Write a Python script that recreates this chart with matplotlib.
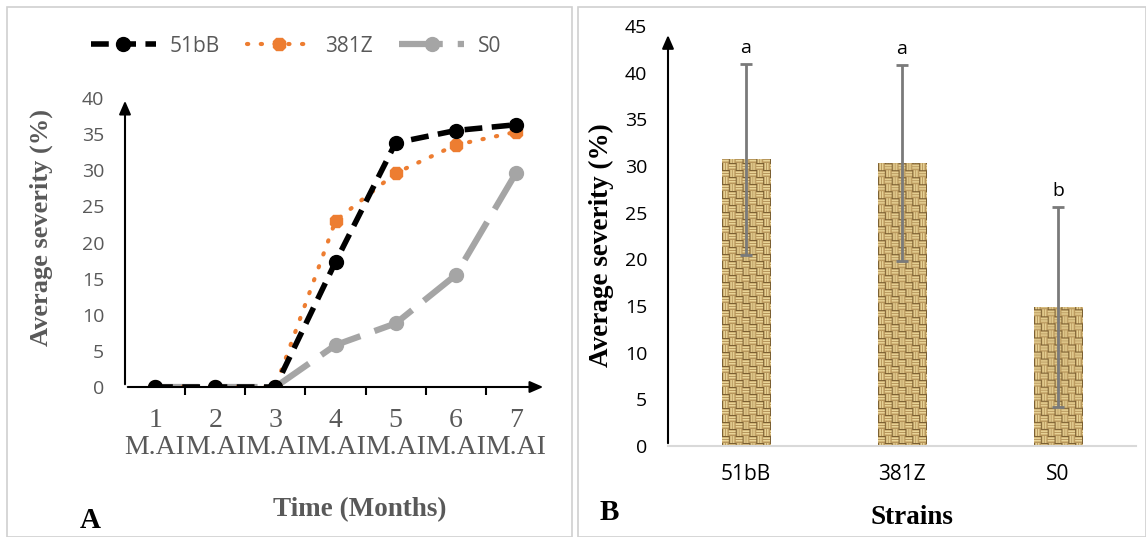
import numpy as np
import matplotlib
matplotlib.use("Agg")
import matplotlib.pyplot as plt
from matplotlib.patches import Rectangle
from matplotlib.lines import Line2D

# ---------------- data ----------------
months = ["1\nM.AI", "2\nM.AI", "3\nM.AI", "4\nM.AI", "5\nM.AI", "6\nM.AI", "7\nM.AI"]
sev_51bB = [0.0, 0.0, 0.0, 17.3, 33.8, 35.5, 36.3]
sev_381Z = [0.0, 0.0, 0.0, 23.0, 29.6, 33.5, 35.3]
sev_S0 = [0.0, 0.0, 0.0, 5.8, 8.8, 15.5, 29.6]

strains = ["51bB", "381Z", "S0"]
mean_sev = [30.7, 30.3, 14.9]
err_sev = [10.2, 10.5, 10.7]
letters = ["a", "a", "b"]

W, H = 1146, 537
fig = plt.figure(figsize=(W / 100, H / 100), dpi=100)

# panel borders
for x0, x1 in [(7, 572), (578, 1146)]:
    fig.patches.append(Rectangle((x0 / W, 0), (x1 - x0) / W, (H - 7) / H,
                                 transform=fig.transFigure, fill=False,
                                 edgecolor="#d0d0d0", lw=1.2))

SERIF = ["Liberation Serif", "DejaVu Serif"]
SANS = ["Open Sans", "DejaVu Sans"]
GRAY = "#595959"

S0_STYLE = dict(color="#a5a5a5", lw=4.5, ls=(0, (7, 2.4)), marker="o", ms=10)
Z_STYLE = dict(color="#ed7d31", lw=3, ls=(0, (0.3, 3.0)), dash_capstyle="round",
               marker="8", ms=10)
B_STYLE = dict(color="black", lw=4, ls=(0, (3.2, 1.7)), marker="o", ms=10)

# ---------------- panel A ----------------
axA = fig.add_axes([125 / W, 150 / H, 421 / W, 289 / H])
x = np.arange(len(months))
axA.plot(x, sev_S0, zorder=2, **S0_STYLE)
axA.plot(x, sev_381Z, zorder=3, **Z_STYLE)
axA.plot(x, sev_51bB, zorder=4, **B_STYLE)
axA.set_xlim(-0.5, len(months) - 0.5)
axA.set_ylim(0, 40)
axA.set_yticks(range(0, 41, 5))
axA.set_xticks(x)
axA.set_xticklabels(months, fontfamily=SERIF, fontsize=20, color=GRAY, linespacing=1.12)
axA.set_xticks(np.arange(0.5, len(months) - 0.5, 1), minor=True)
axA.tick_params(axis="x", which="major", length=0, pad=15)
axA.tick_params(axis="x", which="minor", length=6, width=1.5, direction="out", color="black")
axA.tick_params(axis="y", length=0, pad=15)
for lab in axA.get_yticklabels():
    lab.set_fontfamily(SANS)
    lab.set_fontsize(14)
    lab.set_color(GRAY)
for s in ["top", "right", "left", "bottom"]:
    axA.spines[s].set_visible(False)
axA.annotate("", xy=(0, 1.0), xytext=(0, 0), xycoords="axes fraction",
             arrowprops=dict(arrowstyle="-|>,head_length=0.8,head_width=0.35", color="black", lw=1.5))
axA.annotate("", xy=(1.0, 0), xytext=(0, 0), xycoords="axes fraction",
             arrowprops=dict(arrowstyle="-|>,head_length=0.8,head_width=0.35", color="black", lw=1.5))
axA.set_ylabel("Average severity (%)", fontfamily=SERIF, fontweight="bold",
               fontsize=19, color=GRAY)
axA.yaxis.set_label_coords((53 - 125) / 421, (387 - 228) / 289)
fig.text(360 / W, 1 - 510 / H, "Time (Months)", fontfamily=SERIF, fontweight="bold",
         fontsize=19.5, color=GRAY, ha="center", va="center")
fig.text(80 / W, 1 - 521 / H, "A", fontfamily=SERIF, fontweight="bold",
         fontsize=21, color="black", ha="left", va="center")

handles = [Line2D([], [], **B_STYLE), Line2D([], [], **Z_STYLE), Line2D([], [], **S0_STYLE)]
leg = fig.legend(handles, ["51bB", "381Z", "S0"], loc="center",
                 bbox_to_anchor=(296 / W, 1 - 46 / H), ncol=3, frameon=False,
                 prop={"family": SANS, "size": 15}, handlelength=3.1,
                 columnspacing=1.3, handletextpad=0.65)
for t in leg.get_texts():
    t.set_color(GRAY)

# ---------------- panel B ----------------
axB = fig.add_axes([668 / W, 91 / H, 468 / W, 420 / H])
xb = np.arange(len(strains))
bars = axB.bar(xb, mean_sev, width=0.31, color="#c2a268", zorder=2)

# woven burlap texture (pure decoration) clipped to the bars
rows, cols = 430, 50
ii, jj = np.mgrid[0:rows, 0:cols]
P = 7
blk = ((ii // P) + (jj // P)) % 2
strand = np.where(blk == 0, ii % P, jj % P)
light = np.isin(strand, [2, 4]).astype(float)
mid = np.isin(strand, [1, 5]).astype(float)
dark = np.isin(strand, [0]).astype(float)
base = np.array([0.72, 0.59, 0.36])
lt = np.array([0.95, 0.88, 0.64])
md = np.array([0.85, 0.74, 0.50])
dk = np.array([0.40, 0.30, 0.14])
img = np.ones((rows, cols, 3)) * base
img = img * (1 - 0.85 * light[..., None]) + lt * 0.85 * light[..., None]
img = img * (1 - 0.8 * mid[..., None]) + md * 0.8 * mid[..., None]
img = img * (1 - 0.75 * dark[..., None]) + dk * 0.75 * dark[..., None]
for b in bars:
    x0 = b.get_x()
    im = axB.imshow(img, extent=(x0, x0 + b.get_width(), 0, 46),
                    aspect="auto", interpolation="bilinear", zorder=2.5)
    im.set_clip_path(b)

axB.errorbar(xb, mean_sev, yerr=err_sev, fmt="none", ecolor="#7a7a7a",
             elinewidth=2, capsize=4.5, capthick=2, zorder=4)
for xi, m, e, l in zip(xb, mean_sev, err_sev, letters):
    axB.text(xi, m + e + 0.8, l, ha="center", va="bottom", fontfamily=SANS,
             fontsize=14, color="black")
axB.set_xlim(-0.5, len(strains) - 0.5)
axB.set_ylim(0, 45)
axB.set_yticks(range(0, 46, 5))
axB.set_xticks(xb)
axB.set_xticklabels(strains, fontfamily=SANS, fontsize=15, color="black")
axB.tick_params(axis="x", length=0, pad=13)
axB.tick_params(axis="y", length=0, pad=15)
for lab in axB.get_yticklabels():
    lab.set_fontfamily(SANS)
    lab.set_fontsize(14)
    lab.set_color("black")
for s in ["top", "right", "left"]:
    axB.spines[s].set_visible(False)
axB.spines["bottom"].set_color("#d9d9d9")
axB.spines["bottom"].set_linewidth(1.5)
axB.annotate("", xy=(0, 0.985), xytext=(0, 0), xycoords="axes fraction",
             arrowprops=dict(arrowstyle="-|>,head_length=0.8,head_width=0.35", color="black", lw=1.5))
axB.set_ylabel("Average severity (%)", fontfamily=SERIF, fontweight="bold",
               fontsize=19.5, color="black")
axB.yaxis.set_label_coords((614 - 668) / 468, (446 - 245) / 420)
fig.text(912 / W, 1 - 517 / H, "Strains", fontfamily=SERIF, fontweight="bold",
         fontsize=19.5, color="black", ha="center", va="center")
fig.text(600 / W, 1 - 512 / H, "B", fontfamily=SERIF, fontweight="bold",
         fontsize=21, color="black", ha="left", va="center")

fig.savefig("out.png", dpi=100)
